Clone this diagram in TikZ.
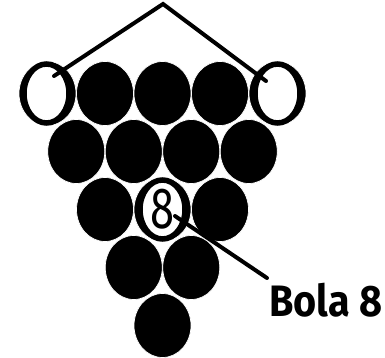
\documentclass[tikz,border=0pt]{standalone}
\usepackage{fontspec}
\setmainfont{Fira Sans}
\newfontfamily\labelfont[FakeStretch=0.9]{Fira Sans}
\newfontfamily\digitfont[FakeStretch=0.75]{Fira Sans}
\usetikzlibrary{shapes.geometric}
\begin{document}
\begin{tikzpicture}[x=1pt,y=1pt,line cap=round,
  ball/.style={ellipse,fill=black,draw=white,line width=0.7pt,minimum width=57pt,minimum height=64pt,inner sep=0pt},
  ring/.style={ellipse,fill=white,draw=black,line width=5.5pt,minimum width=45pt,minimum height=59pt,inner sep=0pt},
  pointer/.style={line width=4pt}]
  \useasboundingbox (0,0) rectangle (385,357);
  % balls, row by row
  \foreach \r/\n in {1/5,2/4,3/3,4/2,5/1}{
    \foreach \k in {1,...,\n}{
      \node[ball] (b\r\k) at ({47.5+28.75*(\r-1)+57.5*(\k-1)},{263.5-58*(\r-1)}) {};
    }
  }
  % the two open balls of the top row and the eight
  \node[ring] (left) at (46.5,263.5) {};
  \node[ring] (right) at (277.5,263.5) {};
  \node[ring,font=\digitfont\fontsize{58}{58}\selectfont] (eight) at (162.5,147.5) {8};
  % rack pointer
  \coordinate (apex) at (163,353);
  \coordinate (lend) at (54,281);
  \coordinate (rend) at (266,276);
  \draw[pointer] (lend) -- (apex) -- (rend);
  % label of the eight
  \node[anchor=base west,inner sep=0pt,font=\labelfont\bfseries\fontsize{44}{44}\selectfont] (lbl) at (269,41) {Bola 8};
  \coordinate (eend) at (175,141);
  \coordinate (lstart) at (267,79);
  \draw[pointer] (eend) -- (lstart);
\end{tikzpicture}
\end{document}
